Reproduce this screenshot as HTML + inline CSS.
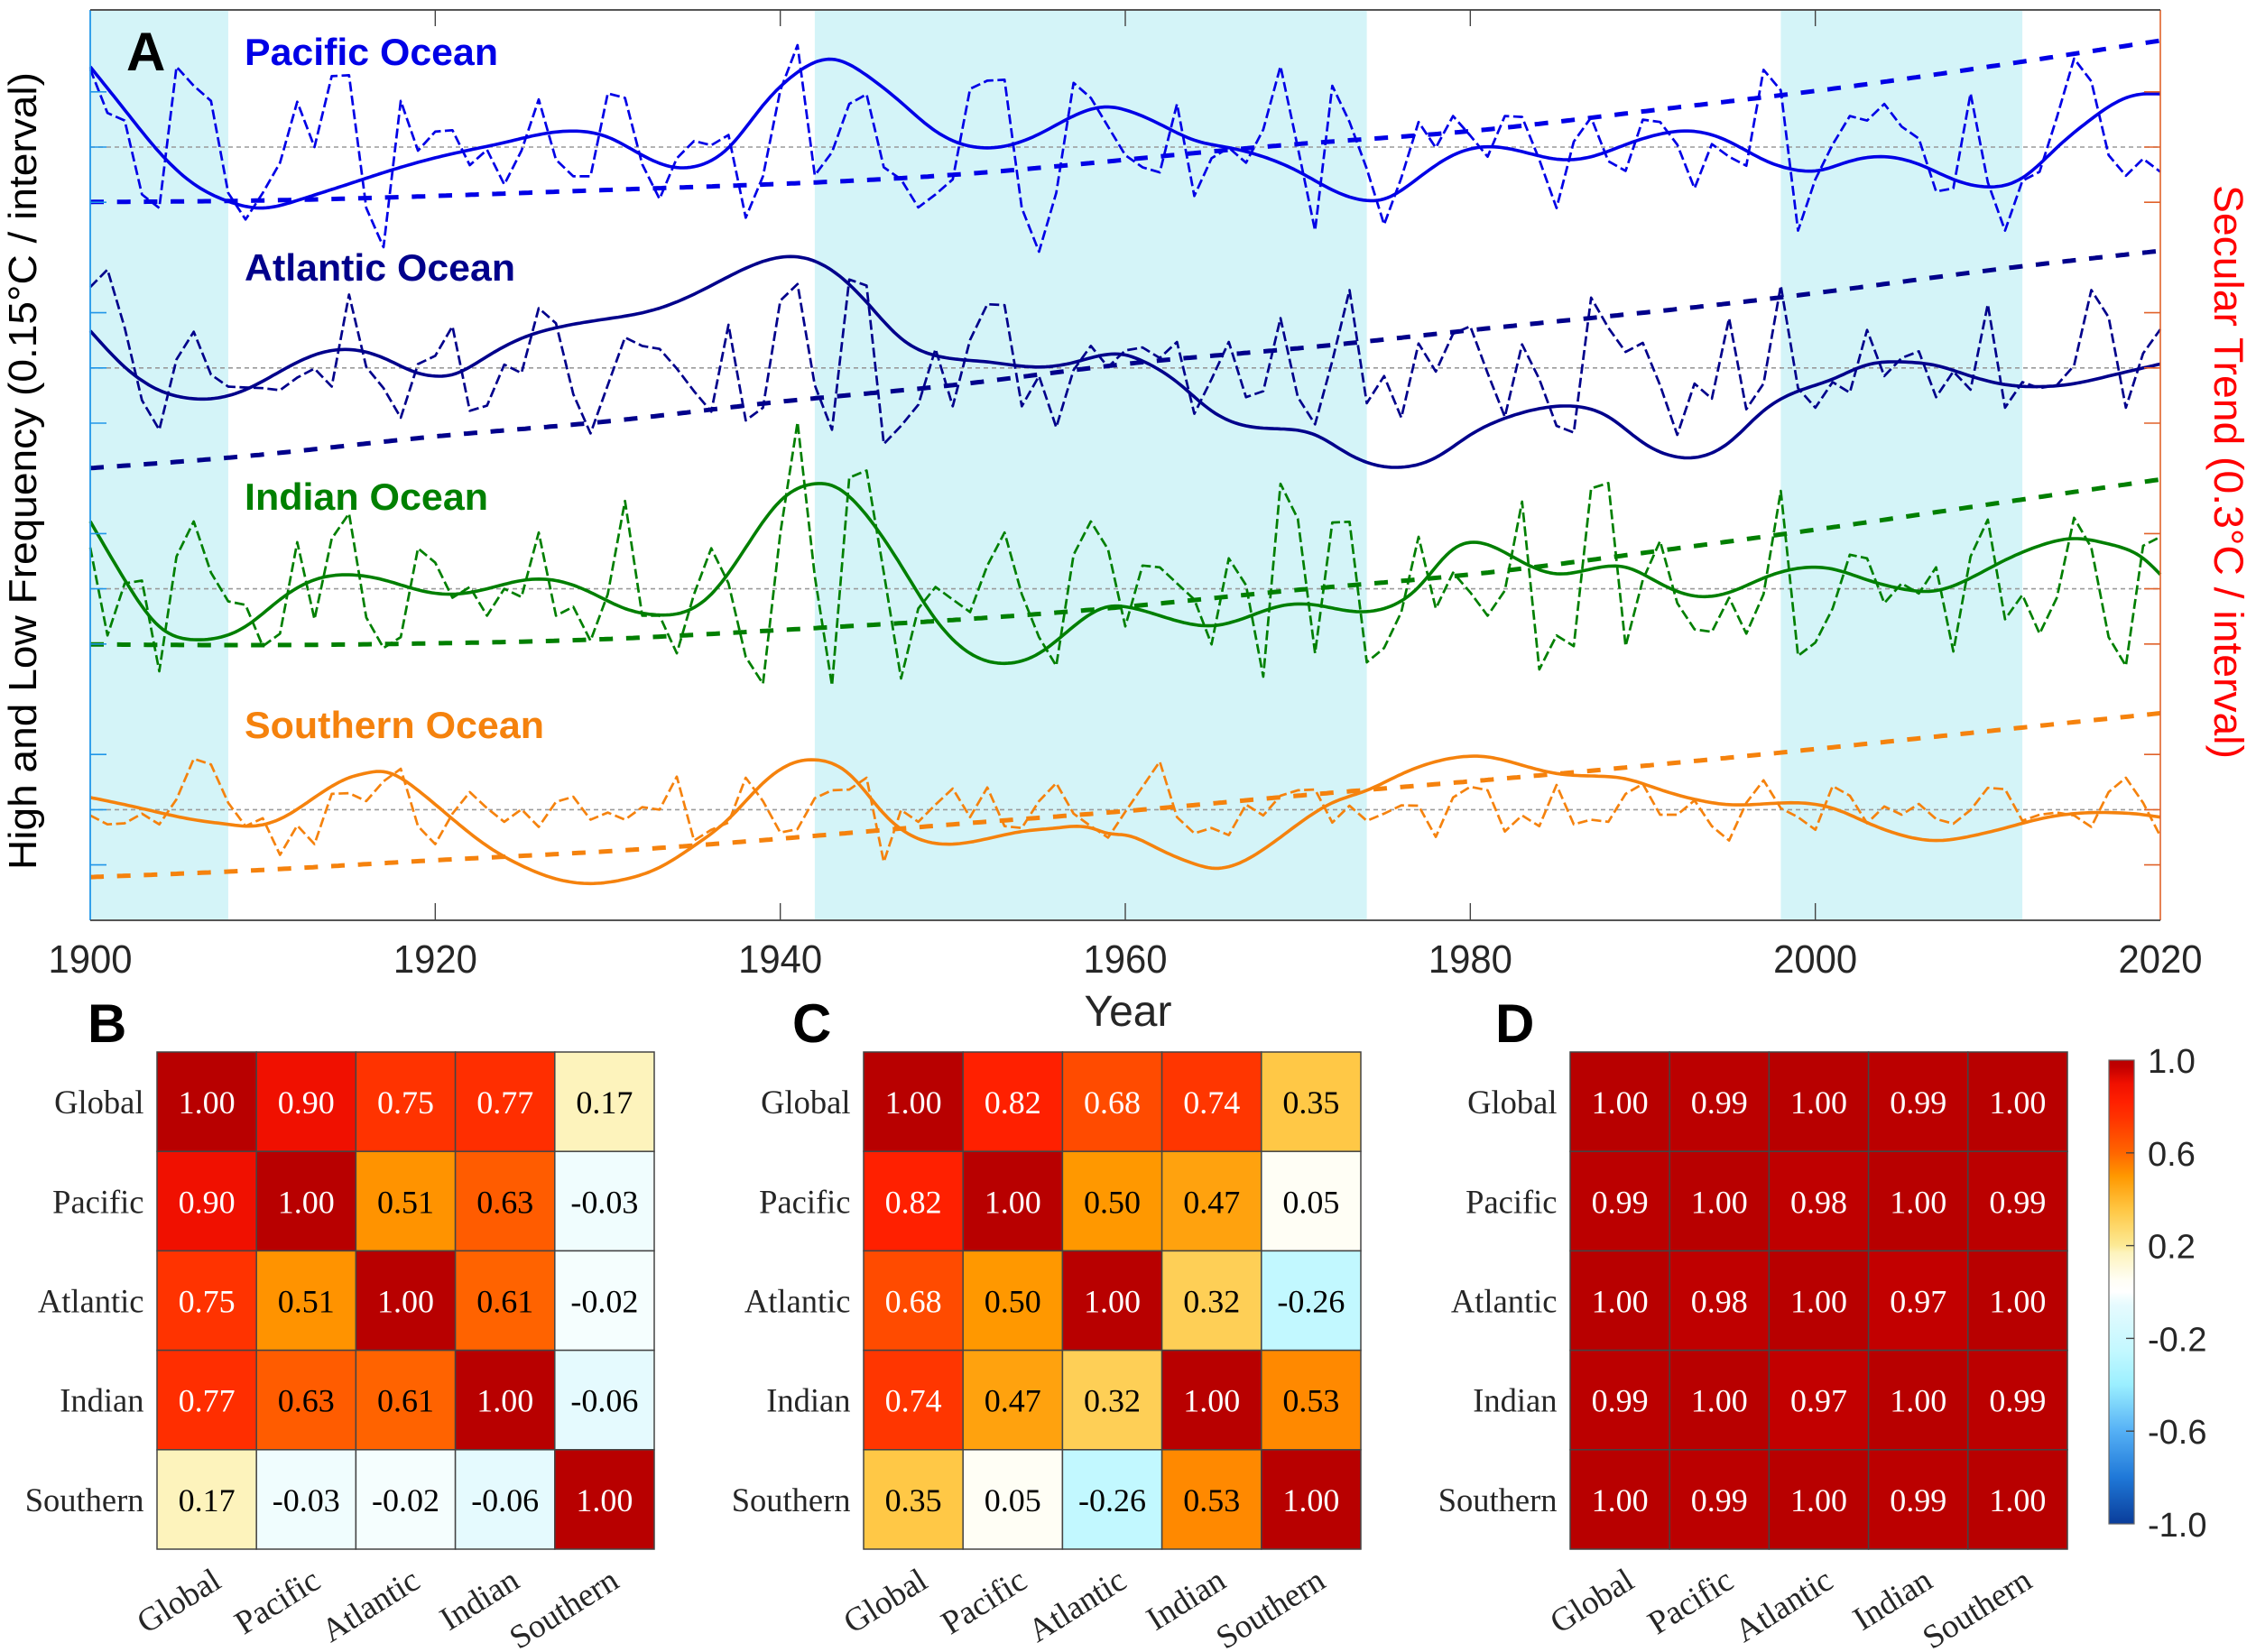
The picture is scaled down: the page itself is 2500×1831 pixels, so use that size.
<!DOCTYPE html>
<html lang="en">
<head>
<meta charset="utf-8">
<title>Ocean temperature variability and correlation</title>
<style>
html,body{margin:0;padding:0;background:#fff;}
svg{display:block;}
text{font-family:"Liberation Sans",Arial,sans-serif;}
.serif{font-family:"Liberation Serif","Times New Roman",serif;}
</style>
</head>
<body>
<svg id="figure" xmlns="http://www.w3.org/2000/svg" width="2500" height="1831" viewBox="0 0 2500 1831">
  <rect x="0" y="0" width="2500" height="1831" fill="#fff"/>
  <g id="shading"></g>
  <g id="baselines"></g>
  <g id="series"></g>
  <g id="axes"></g>
  <text x="140" y="78" font-size="60" font-weight="bold" fill="#000">A</text>
  <text x="271" y="72" font-size="42" font-weight="bold" fill="#0000e6" textLength="281" lengthAdjust="spacingAndGlyphs">Pacific Ocean</text>
  <text x="271" y="311" font-size="42" font-weight="bold" fill="#00008b" textLength="300" lengthAdjust="spacingAndGlyphs">Atlantic Ocean</text>
  <text x="271" y="565" font-size="42" font-weight="bold" fill="#008000" textLength="270" lengthAdjust="spacingAndGlyphs">Indian Ocean</text>
  <text x="271" y="818" font-size="42" font-weight="bold" fill="#f5820d" textLength="332" lengthAdjust="spacingAndGlyphs">Southern Ocean</text>
  <text transform="translate(40,964) rotate(-90)" font-size="44" fill="#000" textLength="884" lengthAdjust="spacingAndGlyphs">High and Low Frequency (0.15°C / interval)</text>
  <text transform="translate(2454,205) rotate(90)" font-size="45" fill="#ff0000" textLength="636" lengthAdjust="spacingAndGlyphs">Secular Trend (0.3°C / interval)</text>
  <text x="1250" y="1137" font-size="48" fill="#262626" text-anchor="middle">Year</text>
  <text x="97" y="1155" font-size="60" font-weight="bold" fill="#000">B</text>
  <text x="878" y="1155" font-size="60" font-weight="bold" fill="#000">C</text>
  <text x="1657" y="1155" font-size="60" font-weight="bold" fill="#000">D</text>
  <g id="heatmaps"></g>
  <defs><linearGradient id="cbar-gradient" x1="0" y1="1" x2="0" y2="0"></linearGradient></defs>
  <g id="colorbar"></g>
</svg>
<script>
/* ---------- time axis data ---------- */
const xTickYears = [1900, 1920, 1940, 1960, 1980, 2000, 2020];
const shadingStarts = [1900, 1942, 1998];
const shadingEnds = [1908, 1974, 2012];
const trendYears = [1900, 1910, 1920, 1930, 1940, 1950, 1960, 1970, 1980, 1990, 2000, 2010, 2020];

/* ---------- series values: anomalies in fine read-off units (see unit constants) ---------- */
const UNIT_UPPER = 0.15 / 183;   /* degC per unit, Pacific and Atlantic */
const UNIT_LOWER = 0.15 / 154;   /* degC per unit, Indian and Southern */

const pacificHigh = [258,113,88,-157,-202,266,203,153,-152,-240,
-152,-52,150,0,235,238,-202,-332,153,-12,
51,56,-60,-9,-124,-12,158,-42,-97,-97,
178,163,-57,-172,-37,20,6,40,-234,-97,
188,338,-94,-17,143,175,-67,-107,-200,-157,
-107,193,220,223,-202,-347,-152,213,163,68,
-27,-67,-84,143,-162,-37,-2,-52,58,268,
-2,-277,203,83,-72,-257,-102,83,-2,103,
38,-32,103,100,-42,-202,18,98,-47,-79,
91,83,8,-137,10,-32,-62,256,188,-277,
-107,8,103,88,143,68,28,-147,-137,178,
-117,-277,-112,-82,98,293,218,-27,-95,-39,-82];
const pacificLowYears = [1900,1902,1904,1906,1908,1910,1912,1915,1918,1921,1924,1927,1928,1930,1932,1934,1935,1937,1939,1941,1943,1945,1947,1949,1951,1953,1955,1957,1959,1960,
1962,1964,1966,1968,1970,1972,1974,1975,1977,1979,1981,1983,1985,1987,1989,1991,1992,1993,1995,1997,1999,2000,2002,2004,2006,2008,2010,2012,2014,2016,2018,2019,2020];
const pacificLow = [266,123,-17,-122,-180,-202,-177,-122,-67,-22,15,50,53,33,-27,-68,-65,-2,138,248,291,238,148,53,3,3,43,103,133,123,
76,23,-2,-32,-80,-142,-177,-172,-102,-27,1,-15,-40,-32,8,43,52,52,18,-42,-77,-79,-47,-32,-57,-107,-132,-102,-2,93,163,176,176];
const pacificTrend = [-182,-177,-162,-142,-122,-92,-42,10,53,118,186,266,353];

const atlanticHigh = [268,326,133,-107,-205,28,120,-22,-62,-65,
-67,-74,-32,-2,-62,243,3,-67,-165,13,
40,138,-142,-125,11,-17,198,148,-87,-217,
-57,101,73,63,-2,-77,-145,143,-174,-132,
223,278,-57,-205,293,273,-252,-192,-122,63,
-127,93,211,208,-127,-27,-197,-7,73,3,
58,68,33,86,-152,-37,86,-97,-77,165,
-97,-187,23,258,-117,-27,-165,81,-12,113,
138,-17,-162,78,-37,-192,-214,233,133,53,
83,-57,-222,-52,-102,165,-137,-52,273,-67,
-132,-47,-82,126,-27,33,55,-97,-12,-72,
211,-132,-47,-67,-57,8,258,168,-132,48,128];
const atlanticLowYears = [1900,1902,1904,1906,1907,1909,1911,1913,1915,1917,1919,1920,1921,1923,1925,1927,1930,1933,1936,1939,1941,1943,1945,1947,1949,1952,1955,1957,1959,
1960,1961,1963,1965,1967,1969,1971,1973,1975,1976,1978,1980,1982,1984,1986,1988,1990,1992,1993,1995,1997,1999,2001,2003,2005,2007,2009,2011,2013,2015,2017,2020];
const atlanticLow = [123,3,-74,-102,-102,-72,-12,43,61,33,-17,-27,-22,38,98,133,163,198,273,353,368,323,218,98,41,20,3,18,45,
43,23,-47,-142,-192,-202,-222,-287,-327,-329,-297,-222,-167,-135,-127,-162,-247,-295,-297,-247,-142,-77,-37,10,20,8,-27,-55,-62,-52,-27,13];
const atlanticTrend = [-332,-287,-227,-177,-112,-57,13,65,125,183,248,323,388];

const indianHigh = [115,-130,15,23,-230,90,188,45,-35,-45,
-160,-125,130,-85,140,210,-80,-165,-135,113,
73,-25,5,-75,0,-23,157,-75,-50,-145,
-15,245,-75,-75,-180,-15,113,15,-190,-265,
155,465,35,-270,310,330,45,-250,-55,5,
-30,-65,65,157,-15,-135,-215,95,188,110,
-105,65,60,15,-30,-155,85,10,-245,293,
195,-180,185,187,-205,-165,-65,145,-55,45,
-10,-75,-5,243,-225,-130,-160,280,295,-160,
25,133,-40,-113,-120,-25,-125,-15,273,-187,
-150,-55,95,85,-40,15,-13,60,-175,90,
193,-85,-17,-125,-25,198,115,-135,-215,120,145];
const indianLowYears = [1900,1902,1904,1906,1907,1909,1911,1913,1915,1917,1919,1921,1923,1925,1927,1929,1931,1933,1934,1936,1938,1940,1942,1943,1945,1947,1949,1951,1953,1955,1957,1959,
1960,1962,1964,1965,1967,1969,1971,1973,1975,1977,1979,1981,1983,1985,1987,1989,1991,1993,1995,1997,1999,2001,2003,2005,2007,2009,2011,2013,2015,2017,2019,2020];
const indianLow = [188,25,-105,-142,-140,-105,-30,25,39,25,-3,-15,0,23,23,-10,-55,-73,-70,-15,115,245,293,288,205,65,-85,-180,-208,-180,-105,-50,
-50,-75,-100,-103,-80,-48,-45,-62,-55,5,110,123,75,42,55,60,15,-20,-10,30,57,55,25,0,-5,30,80,120,140,125,85,40];
const indianTrend = [-155,-157,-152,-140,-115,-87,-50,-3,40,100,165,235,305];

const southernHigh = [-16,-41,-38,-11,-41,29,142,126,19,-46,
-24,-126,-44,-96,44,46,24,79,114,-46,
-96,-11,49,4,-34,1,-48,22,36,-28,
-8,-28,7,0,92,-86,-56,-36,89,24,
-64,-54,32,54,56,89,-146,-1,-34,14,
59,-21,62,-46,-51,24,74,-11,-46,-78,
-6,64,134,-21,-66,-51,-71,14,-16,39,
54,56,-36,11,-31,-11,12,11,-76,34,
64,54,-61,-16,-46,69,-41,-28,-34,44,
72,-14,-14,26,-46,-86,19,82,4,-21,
-56,66,39,-38,9,-14,16,-26,-39,-1,
61,57,-31,-14,-8,-16,-48,49,89,19,-74];
const southernLowYears = [1900,1902,1904,1906,1908,1909,1911,1913,1915,1916,1917,1919,1921,1923,1925,1927,1929,1931,1933,1935,1937,1939,1941,1942,1944,1946,1948,1950,1952,1954,1956,1958,1959,
1960,1962,1964,1965,1966,1968,1970,1972,1974,1976,1978,1980,1981,1983,1985,1987,1989,1991,1993,1995,1997,1999,2001,2003,2005,2007,2009,2011,2013,2015,2017,2019,2020];
const southernLow = [34,14,-8,-28,-41,-46,-26,34,89,102,106,54,-26,-101,-156,-193,-206,-194,-161,-101,-26,74,134,139,99,-11,-81,-96,-81,-61,-51,-51,-66,
-71,-111,-151,-163,-159,-111,-41,19,54,99,134,149,147,124,101,94,86,56,29,14,16,19,4,-36,-71,-86,-74,-51,-26,-11,-8,-14,-21];
const southernTrend = [-188,-168,-141,-116,-81,-41,-4,39,79,122,169,219,269];

/* ---------- heatmap data ---------- */
const oceanCategories = ['Global', 'Pacific', 'Atlantic', 'Indian', 'Southern'];
const correlationB = [
  [1.00, 0.90, 0.75, 0.77, 0.17],
  [0.90, 1.00, 0.51, 0.63, -0.03],
  [0.75, 0.51, 1.00, 0.61, -0.02],
  [0.77, 0.63, 0.61, 1.00, -0.06],
  [0.17, -0.03, -0.02, -0.06, 1.00]
];
const correlationC = [
  [1.00, 0.82, 0.68, 0.74, 0.35],
  [0.82, 1.00, 0.50, 0.47, 0.05],
  [0.68, 0.50, 1.00, 0.32, -0.26],
  [0.74, 0.47, 0.32, 1.00, 0.53],
  [0.35, 0.05, -0.26, 0.53, 1.00]
];
const correlationD = [
  [1.00, 0.99, 1.00, 0.99, 1.00],
  [0.99, 1.00, 0.98, 1.00, 0.99],
  [1.00, 0.98, 1.00, 0.97, 1.00],
  [0.99, 1.00, 0.97, 1.00, 0.99],
  [1.00, 0.99, 1.00, 0.99, 1.00]
];
const colorbarTicks = [1.0, 0.6, 0.2, -0.2, -0.6, -1.0];
const colormapValues = [-1, -0.8, -0.6, -0.4, -0.26, -0.06, -0.03, 0, 0.05, 0.17, 0.2, 0.35, 0.5, 0.6, 0.75, 0.82, 0.9, 0.97, 1];
const colormapColors = ['#0a3d9a', '#1f78d8', '#55b0f5', '#9befff', '#c2f8ff', '#e5fafe', '#f0fdfe', '#ffffff', '#fffef5', '#fdf3bc', '#fcea96', '#ffc846', '#ff9800', '#ff6600', '#ff3300', '#ff2000', '#f01000', '#c20000', '#b80000'];

/* ---------- axis functions ---------- */
const NS = 'http://www.w3.org/2000/svg';
const PLOT_LEFT = 100, PLOT_RIGHT = 2394, PLOT_TOP = 11, PLOT_BOTTOM = 1020;
const INTERVAL_PX = 61.2, INTERVAL_C = 0.15, FIRST_BASE = 163, GROUP_INTERVALS = 4;
const xScale = year => PLOT_LEFT + (year - 1900) * (PLOT_RIGHT - PLOT_LEFT) / 120;
const baseline = index => FIRST_BASE + index * GROUP_INTERVALS * INTERVAL_PX;
const yScale = (degC, index) => baseline(index) - degC / INTERVAL_C * INTERVAL_PX;

function node(tag, parent) {
  const el = document.createElementNS(NS, tag);
  parent.appendChild(el);
  return el;
}
function linePath(points) {
  return points.map((p, i) => (i ? 'L' : 'M') + p[0].toFixed(1) + ' ' + p[1].toFixed(1)).join('');
}
/* natural cubic spline through the given points, drawn as a fine polyline */
function smoothPath(points) {
  const n = points.length, xs = points.map(p => p[0]), ys = points.map(p => p[1]);
  const u = new Array(n).fill(0), m = new Array(n).fill(0);
  for (let i = 1; i < n - 1; i++) {
    const sig = (xs[i] - xs[i - 1]) / (xs[i + 1] - xs[i - 1]);
    const p = sig * m[i - 1] + 2;
    m[i] = (sig - 1) / p;
    const d = (ys[i + 1] - ys[i]) / (xs[i + 1] - xs[i]) - (ys[i] - ys[i - 1]) / (xs[i] - xs[i - 1]);
    u[i] = (6 * d / (xs[i + 1] - xs[i - 1]) - sig * u[i - 1]) / p;
  }
  m[n - 1] = 0;
  for (let k = n - 2; k >= 0; k--) m[k] = m[k] * m[k + 1] + u[k];
  const out = [];
  for (let i = 0; i < n - 1; i++) {
    const h = xs[i + 1] - xs[i], steps = Math.max(2, Math.ceil(h / 4));
    for (let s = 0; s < steps; s++) {
      const b = s / steps, a = 1 - b;
      out.push([xs[i] + b * h, a * ys[i] + b * ys[i + 1] + ((a * a * a - a) * m[i] + (b * b * b - b) * m[i + 1]) * h * h / 6]);
    }
  }
  out.push(points[n - 1]);
  return linePath(out);
}
function styledPath(parent, d, stroke, width, dash) {
  const p = node('path', parent);
  p.setAttribute('d', d);
  p.setAttribute('fill', 'none');
  p.setAttribute('stroke', stroke);
  p.setAttribute('stroke-width', width);
  p.setAttribute('stroke-linejoin', 'round');
  if (dash) p.setAttribute('stroke-dasharray', dash);
  return p;
}
function segment(parent, x1, y1, x2, y2, stroke, width) {
  const l = node('line', parent);
  l.setAttribute('x1', x1);
  l.setAttribute('y1', y1);
  l.setAttribute('x2', x2);
  l.setAttribute('y2', y2);
  l.setAttribute('stroke', stroke);
  l.setAttribute('stroke-width', width);
  return l;
}

/* ---------- main chart ---------- */
const shadingGroup = document.getElementById('shading');
shadingStarts.forEach((start, i) => {
  const r = node('rect', shadingGroup);
  r.setAttribute('x', xScale(start));
  r.setAttribute('y', PLOT_TOP);
  r.setAttribute('width', xScale(shadingEnds[i]) - xScale(start));
  r.setAttribute('height', PLOT_BOTTOM - PLOT_TOP);
  r.setAttribute('fill', '#d4f4f8');
  
  
});

const oceans = [
  {name: 'pacific', color: '#0000e6', unit: UNIT_UPPER, high: pacificHigh, lowYears: pacificLowYears, low: pacificLow, trend: pacificTrend},
  {name: 'atlantic', color: '#00008b', unit: UNIT_UPPER, high: atlanticHigh, lowYears: atlanticLowYears, low: atlanticLow, trend: atlanticTrend},
  {name: 'indian', color: '#007f00', unit: UNIT_LOWER, high: indianHigh, lowYears: indianLowYears, low: indianLow, trend: indianTrend},
  {name: 'southern', color: '#f5820d', unit: UNIT_LOWER, high: southernHigh, lowYears: southernLowYears, low: southernLow, trend: southernTrend}
];

const baselineGroup = document.getElementById('baselines');
const seriesGroup = document.getElementById('series');
const axesGroup = document.getElementById('axes');

oceans.forEach((ocean, idx) => {
  const zero = segment(baselineGroup, PLOT_LEFT, baseline(idx), PLOT_RIGHT, baseline(idx), '#9a9a9a', 1.6);
  zero.setAttribute('stroke-dasharray', '5 4');
  
  

  const highPts = ocean.high.map((v, i) => [xScale(1900 + i), yScale(v * ocean.unit, idx)]);
  const high = styledPath(seriesGroup, linePath(highPts), ocean.color, 2.7, '11 4.5');
  
  

  const lowPts = ocean.low.map((v, i) => [xScale(ocean.lowYears[i]), yScale(v * ocean.unit, idx)]);
  const low = styledPath(seriesGroup, smoothPath(lowPts), ocean.color, 3.6, null);
  
  

  const trendPts = ocean.trend.map((v, i) => [xScale(trendYears[i]), yScale(v * ocean.unit, idx)]);
  const trend = styledPath(seriesGroup, smoothPath(trendPts), ocean.color, 5, '15 14.7');
  
  

  [-1, 0, 1].forEach(k => {
    const y = baseline(idx) + k * INTERVAL_PX;
    const leftTick = segment(axesGroup, PLOT_LEFT, y, PLOT_LEFT + 18, y, '#2196e8', 1.6);
    
    
    const rightTick = segment(axesGroup, PLOT_RIGHT - 18, y, PLOT_RIGHT, y, '#e0622a', 1.6);
    
    
  });
});

const leftAxis = segment(axesGroup, PLOT_LEFT, PLOT_TOP, PLOT_LEFT, PLOT_BOTTOM, '#2196e8', 1.8);


const rightAxis = segment(axesGroup, PLOT_RIGHT, PLOT_TOP, PLOT_RIGHT, PLOT_BOTTOM, '#e0622a', 1.6);


const topAxis = segment(axesGroup, PLOT_LEFT, PLOT_TOP, PLOT_RIGHT, PLOT_TOP, '#555', 2);


const bottomAxis = segment(axesGroup, PLOT_LEFT, PLOT_BOTTOM, PLOT_RIGHT, PLOT_BOTTOM, '#555', 2);



xTickYears.forEach(year => {
  const x = xScale(year);
  if (year > 1900 && year < 2020) {
    const t1 = segment(axesGroup, x, PLOT_TOP, x, PLOT_TOP + 18, '#444', 1.4);
    
    
    const t2 = segment(axesGroup, x, PLOT_BOTTOM - 19, x, PLOT_BOTTOM, '#444', 1.4);
    
    
  }
  const label = node('text', axesGroup);
  label.setAttribute('x', x);
  label.setAttribute('y', 1078);
  label.setAttribute('font-size', 44);
  label.setAttribute('fill', '#262626');
  label.setAttribute('text-anchor', 'middle');
  label.setAttribute('textLength', 93);
  label.setAttribute('lengthAdjust', 'spacingAndGlyphs');
  label.textContent = year;
  
  
});

/* ---------- colormap ---------- */
function hexToRgb(h) {
  return [parseInt(h.slice(1, 3), 16), parseInt(h.slice(3, 5), 16), parseInt(h.slice(5, 7), 16)];
}
function colormap(v) {
  for (let i = 0; i < colormapValues.length - 1; i++) {
    if (v <= colormapValues[i + 1]) {
      const t = Math.max(0, (v - colormapValues[i]) / (colormapValues[i + 1] - colormapValues[i]));
      const a = hexToRgb(colormapColors[i]), b = hexToRgb(colormapColors[i + 1]);
      return 'rgb(' + a.map((c, k) => Math.round(c + (b[k] - c) * t)).join(',') + ')';
    }
  }
  return colormapColors[colormapColors.length - 1];
}

/* ---------- heatmaps ---------- */
const heatGroup = document.getElementById('heatmaps');
const HEAT_TOP = 1166, CELL = 110.2;
function drawHeatmap(matrix, left, panel) {
  const g = node('g', heatGroup);
  
  
  matrix.forEach((row, r) => {
    row.forEach((value, c) => {
      const rect = node('rect', g);
      rect.setAttribute('x', left + c * CELL);
      rect.setAttribute('y', HEAT_TOP + r * CELL);
      rect.setAttribute('width', CELL);
      rect.setAttribute('height', CELL);
      rect.setAttribute('fill', colormap(value));
      rect.setAttribute('stroke', '#444');
      rect.setAttribute('stroke-width', 1.5);
      
      
      const txt = node('text', g);
      txt.setAttribute('class', 'serif');
      txt.setAttribute('x', left + (c + 0.5) * CELL);
      txt.setAttribute('y', HEAT_TOP + (r + 0.5) * CELL + 13);
      txt.setAttribute('font-size', 36);
      txt.setAttribute('text-anchor', 'middle');
      txt.setAttribute('fill', value > 0.65 ? '#fff' : '#000');
      txt.textContent = value.toFixed(2);
      
      
    });
    const rowLabel = node('text', g);
    rowLabel.setAttribute('class', 'serif');
    rowLabel.setAttribute('x', left - 14.5);
    rowLabel.setAttribute('y', HEAT_TOP + (r + 0.5) * CELL + 13);
    rowLabel.setAttribute('font-size', 36.5);
    rowLabel.setAttribute('text-anchor', 'end');
    rowLabel.setAttribute('fill', '#262626');
    rowLabel.textContent = oceanCategories[r];
    
    
    const colLabel = node('text', g);
    const cx = left + (r + 0.5) * CELL + 18;
    colLabel.setAttribute('class', 'serif');
    colLabel.setAttribute('transform', 'translate(' + cx + ',1758) rotate(-32)');
    colLabel.setAttribute('font-size', 37);
    colLabel.setAttribute('text-anchor', 'end');
    colLabel.setAttribute('fill', '#262626');
    colLabel.textContent = oceanCategories[r];
    
    
  });
}
drawHeatmap(correlationB, 174, 'b');
drawHeatmap(correlationC, 957, 'c');
drawHeatmap(correlationD, 1740, 'd');

/* ---------- colorbar ---------- */
const CB_LEFT = 2337, CB_RIGHT = 2365, CB_TOP = 1175, CB_BOTTOM = 1689;
const cbScale = v => CB_BOTTOM - (v + 1) / 2 * (CB_BOTTOM - CB_TOP);
const gradient = document.getElementById('cbar-gradient');
colormapValues.forEach((v, i) => {
  const stop = node('stop', gradient);
  stop.setAttribute('offset', ((v + 1) / 2 * 100) + '%');
  stop.setAttribute('stop-color', colormapColors[i]);
});
const cbGroup = document.getElementById('colorbar');
const cbRect = node('rect', cbGroup);
cbRect.setAttribute('x', CB_LEFT);
cbRect.setAttribute('y', CB_TOP);
cbRect.setAttribute('width', CB_RIGHT - CB_LEFT);
cbRect.setAttribute('height', CB_BOTTOM - CB_TOP);
cbRect.setAttribute('fill', 'url(#cbar-gradient)');
cbRect.setAttribute('stroke', '#666');
cbRect.setAttribute('stroke-width', 1.2);


colorbarTicks.forEach(v => {
  const y = cbScale(v);
  if (Math.abs(v) < 1) {
    const t = segment(cbGroup, CB_RIGHT - 9, y, CB_RIGHT, y, '#444', 1.4);
    
    
  }
  const label = node('text', cbGroup);
  label.setAttribute('x', 2380);
  label.setAttribute('y', y + 14);
  label.setAttribute('font-size', 38);
  label.setAttribute('fill', '#262626');
  label.textContent = v.toFixed(1);
  
  
});
</script>
</body>
</html>
